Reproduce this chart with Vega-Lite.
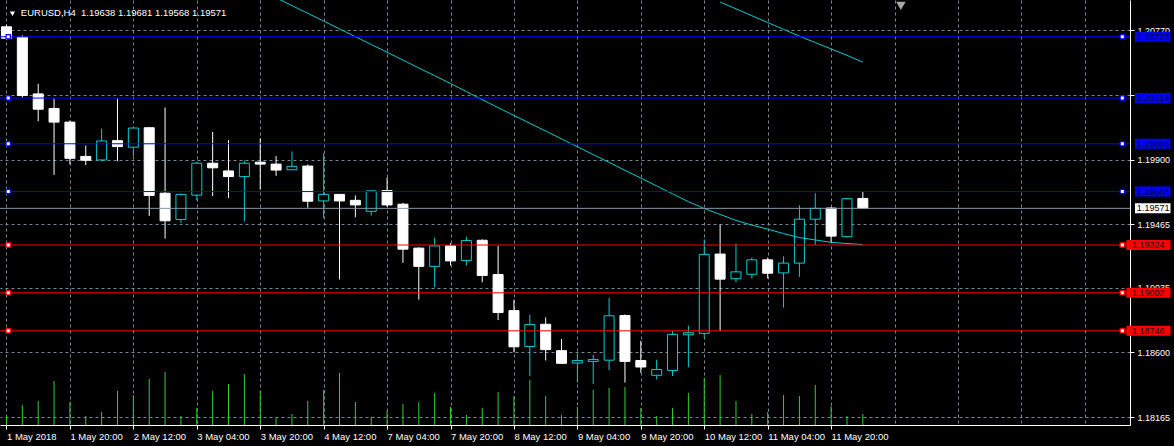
{
  "$schema": "https://vega.github.io/schema/vega-lite/v6.json",
  "width": 1130,
  "height": 425,
  "autosize": {"type": "none"},
  "padding": {"left": 0, "top": 0, "right": 44, "bottom": 21},
  "background": "#000000",
  "config": {"view": {"stroke": null}, "font": "Liberation Sans"},
  "datasets": {
    "candles": [
      {"k":0,"o":1.20794,"h":1.20809,"l":1.20704,"c":1.20717,"v":2250},
      {"k":1,"o":1.20724,"h":1.20737,"l":1.20318,"c":1.20331,"v":5000},
      {"k":2,"o":1.20342,"h":1.20410,"l":1.20158,"c":1.20239,"v":6000},
      {"k":3,"o":1.20244,"h":1.20311,"l":1.19796,"c":1.20152,"v":11000},
      {"k":4,"o":1.20152,"h":1.20163,"l":1.19867,"c":1.19908,"v":5750},
      {"k":5,"o":1.19921,"h":1.19994,"l":1.19862,"c":1.19895,"v":2250},
      {"k":6,"o":1.19897,"h":1.20108,"l":1.19888,"c":1.20025,"v":3250},
      {"k":7,"o":1.20027,"h":1.20311,"l":1.19888,"c":1.19987,"v":8500},
      {"k":8,"o":1.19983,"h":1.20119,"l":1.19921,"c":1.20112,"v":7500},
      {"k":9,"o":1.20114,"h":1.20119,"l":1.19520,"c":1.19658,"v":11500},
      {"k":10,"o":1.19673,"h":1.20250,"l":1.19367,"c":1.19487,"v":13250},
      {"k":11,"o":1.19496,"h":1.19671,"l":1.19472,"c":1.19665,"v":2250},
      {"k":12,"o":1.19660,"h":1.19882,"l":1.19625,"c":1.19875,"v":4250},
      {"k":13,"o":1.19875,"h":1.20086,"l":1.19654,"c":1.19844,"v":8500},
      {"k":14,"o":1.19823,"h":1.20031,"l":1.19640,"c":1.19785,"v":10250},
      {"k":15,"o":1.19785,"h":1.19893,"l":1.19483,"c":1.19875,"v":12750},
      {"k":16,"o":1.19882,"h":1.20042,"l":1.19698,"c":1.19869,"v":8500},
      {"k":17,"o":1.19869,"h":1.19923,"l":1.19790,"c":1.19829,"v":1750},
      {"k":18,"o":1.19831,"h":1.19954,"l":1.19829,"c":1.19854,"v":2750},
      {"k":19,"o":1.19856,"h":1.19867,"l":1.19575,"c":1.19619,"v":6000},
      {"k":20,"o":1.19621,"h":1.19943,"l":1.19505,"c":1.19665,"v":8750},
      {"k":21,"o":1.19665,"h":1.19665,"l":1.19092,"c":1.19621,"v":13000},
      {"k":22,"o":1.19625,"h":1.19658,"l":1.19511,"c":1.19594,"v":5750},
      {"k":23,"o":1.19551,"h":1.19691,"l":1.19522,"c":1.19689,"v":2000},
      {"k":24,"o":1.19691,"h":1.19779,"l":1.19581,"c":1.19594,"v":3500},
      {"k":25,"o":1.19599,"h":1.19608,"l":1.19204,"c":1.19296,"v":5250},
      {"k":26,"o":1.19303,"h":1.19309,"l":1.18956,"c":1.19180,"v":5750},
      {"k":27,"o":1.19180,"h":1.19373,"l":1.19040,"c":1.19318,"v":8000},
      {"k":28,"o":1.19318,"h":1.19336,"l":1.19186,"c":1.19217,"v":4500},
      {"k":29,"o":1.19219,"h":1.19380,"l":1.19186,"c":1.19354,"v":2500},
      {"k":30,"o":1.19356,"h":1.19362,"l":1.19073,"c":1.19119,"v":4250},
      {"k":31,"o":1.19125,"h":1.19318,"l":1.18818,"c":1.18869,"v":8250},
      {"k":32,"o":1.18882,"h":1.18956,"l":1.18601,"c":1.18638,"v":7250},
      {"k":33,"o":1.18640,"h":1.18854,"l":1.18441,"c":1.18788,"v":11250},
      {"k":34,"o":1.18790,"h":1.18836,"l":1.18546,"c":1.18619,"v":7250},
      {"k":35,"o":1.18612,"h":1.18691,"l":1.18522,"c":1.18527,"v":2500},
      {"k":36,"o":1.18529,"h":1.18594,"l":1.18397,"c":1.18546,"v":4500},
      {"k":37,"o":1.18540,"h":1.18584,"l":1.18388,"c":1.18553,"v":8750},
      {"k":38,"o":1.18548,"h":1.18967,"l":1.18481,"c":1.18847,"v":9250},
      {"k":39,"o":1.18849,"h":1.18856,"l":1.18397,"c":1.18540,"v":9500},
      {"k":40,"o":1.18546,"h":1.18678,"l":1.18463,"c":1.18502,"v":4250},
      {"k":41,"o":1.18446,"h":1.18551,"l":1.18419,"c":1.18485,"v":2250},
      {"k":42,"o":1.18479,"h":1.18744,"l":1.18441,"c":1.18722,"v":4250},
      {"k":43,"o":1.18719,"h":1.18781,"l":1.18502,"c":1.18733,"v":8000},
      {"k":44,"o":1.18729,"h":1.19362,"l":1.18700,"c":1.19261,"v":11750},
      {"k":45,"o":1.19263,"h":1.19461,"l":1.18744,"c":1.19094,"v":12500},
      {"k":46,"o":1.19097,"h":1.19334,"l":1.19073,"c":1.19143,"v":6000},
      {"k":47,"o":1.19127,"h":1.19239,"l":1.19099,"c":1.19224,"v":2750},
      {"k":48,"o":1.19224,"h":1.19239,"l":1.19099,"c":1.19134,"v":3250},
      {"k":49,"o":1.19136,"h":1.19248,"l":1.18902,"c":1.19202,"v":7500},
      {"k":50,"o":1.19202,"h":1.19592,"l":1.19110,"c":1.19498,"v":7250},
      {"k":51,"o":1.19498,"h":1.19673,"l":1.19325,"c":1.19571,"v":10000},
      {"k":52,"o":1.19573,"h":1.19579,"l":1.19340,"c":1.19384,"v":4750},
      {"k":53,"o":1.19380,"h":1.19642,"l":1.19375,"c":1.19636,"v":2250},
      {"k":54,"o":1.19638,"h":1.19681,"l":1.19568,"c":1.19571,"v":2750}
    ],
    "ma": [
      {"k":17,"ma":1.20990,"s":"a"},{"k":18,"ma":1.20937,"s":"a"},{"k":19,"ma":1.20885,"s":"a"},
      {"k":20,"ma":1.20833,"s":"a"},{"k":21,"ma":1.20780,"s":"a"},{"k":22,"ma":1.20728,"s":"a"},
      {"k":23,"ma":1.20675,"s":"a"},{"k":24,"ma":1.20623,"s":"a"},{"k":25,"ma":1.20570,"s":"a"},
      {"k":26,"ma":1.20517,"s":"a"},{"k":27,"ma":1.20465,"s":"a"},{"k":28,"ma":1.20412,"s":"a"},
      {"k":29,"ma":1.20358,"s":"a"},{"k":30,"ma":1.20303,"s":"a"},{"k":31,"ma":1.20250,"s":"a"},
      {"k":32,"ma":1.20197,"s":"a"},{"k":33,"ma":1.20144,"s":"a"},{"k":34,"ma":1.20092,"s":"a"},
      {"k":35,"ma":1.20039,"s":"a"},{"k":36,"ma":1.19986,"s":"a"},{"k":37,"ma":1.19933,"s":"a"},
      {"k":38,"ma":1.19881,"s":"a"},{"k":39,"ma":1.19827,"s":"a"},{"k":40,"ma":1.19775,"s":"a"},
      {"k":41,"ma":1.19722,"s":"a"},{"k":42,"ma":1.19669,"s":"a"},{"k":43,"ma":1.19616,"s":"a"},
      {"k":44,"ma":1.19570,"s":"a"},{"k":45,"ma":1.19530,"s":"a"},{"k":46,"ma":1.19490,"s":"a"},
      {"k":47,"ma":1.19458,"s":"a"},{"k":48,"ma":1.19431,"s":"a"},{"k":49,"ma":1.19401,"s":"a"},
      {"k":50,"ma":1.19374,"s":"a"},{"k":51,"ma":1.19358,"s":"a"},{"k":52,"ma":1.19342,"s":"a"},
      {"k":53,"ma":1.19334,"s":"a"},{"k":54,"ma":1.19327,"s":"a"},
      {"k":45,"ma":1.20961,"s":"b"},{"k":46,"ma":1.20915,"s":"b"},{"k":47,"ma":1.20869,"s":"b"},
      {"k":48,"ma":1.20823,"s":"b"},{"k":49,"ma":1.20777,"s":"b"},{"k":50,"ma":1.20731,"s":"b"},
      {"k":51,"ma":1.20688,"s":"b"},{"k":52,"ma":1.20645,"s":"b"},{"k":53,"ma":1.20602,"s":"b"},
      {"k":54,"ma":1.20556,"s":"b"}
    ],
    "levels": [
      {"lvl":1.20727,"col":"blue"},{"lvl":1.20314,"col":"blue"},{"lvl":1.20006,"col":"blue"},
      {"lvl":1.19684,"col":"blue"},{"lvl":1.19324,"col":"red"},{"lvl":1.19002,"col":"red"},
      {"lvl":1.18746,"col":"red"}
    ],
    "last": [{"p":1.19571,"title":"EURUSD,H4\u00a0\u00a01.19638 1.19681 1.19568 1.19571"}]
  },
  "resolve": {"scale": {"y": "independent"}},
  "layer": [
    {
      "data": {"name": "candles"},
      "mark": {"type": "rule", "color": "#32cd32", "strokeWidth": 1},
      "encoding": {
        "x": {
          "field": "k", "type": "quantitative",
          "scale": {"domain": [-0.09375, 70.53125], "nice": false, "zero": false},
          "axis": {
            "orient": "bottom", "title": null,
            "values": [0,2,4,6,8,10,12,14,16,18,20,22,24,26,28,30,32,34,36,38,40,42,44,46,48,50,52,54,56,58,60,62,64,66,68,70],
            "labelExpr": "(datum.value % 4 == 0 && datum.value <= 52) ? ['1 May 2018','1 May 20:00','2 May 12:00','3 May 04:00','3 May 20:00','4 May 12:00','7 May 04:00','7 May 20:00','8 May 12:00','9 May 04:00','9 May 20:00','10 May 12:00','11 May 04:00','11 May 20:00'][datum.value / 4] : ''",
            "labelColor": "#ffffff", "labelFontSize": 9.5, "labelFont": "Liberation Sans",
            "labelAlign": "left", "labelBaseline": "top", "labelPadding": 2,
            "labelFlush": false, "labelOverlap": false,
            "tickSize": 4,
            "tickColor": {"condition": {"test": "datum.value % 4 == 0 && datum.value <= 52", "value": "#ffffff"}, "value": "transparent"},
            "domainColor": "#ffffff", "domainWidth": 1,
            "grid": true, "gridColor": "#778899", "gridDash": [3, 3], "gridWidth": 1
          }
        },
        "y": {"field": "v", "type": "quantitative", "scale": {"domain": [0, 106250], "nice": false, "zero": true}, "axis": null},
        "y2": {"datum": 0}
      }
    },
    {
      "layer": [
        {
          "data": {"name": "candles"},
          "mark": {"type": "rule", "strokeWidth": 1, "clip": true},
          "encoding": {
            "x": {"field": "k", "type": "quantitative"},
            "y": {
              "field": "l", "type": "quantitative",
              "scale": {"domain": [1.18145, 1.20941], "nice": false, "zero": false},
              "axis": {
                "orient": "right", "title": null,
                "values": [1.20770,1.20550,1.20335,1.20120,1.19900,1.19685,1.19465,1.19250,1.19035,1.18815,1.18600,1.18385,1.18165],
                "labelExpr": "(datum.value == 1.20335 || datum.value == 1.19685) ? '' : format(datum.value, '.5f')",
                "labelColor": "#ffffff", "labelFontSize": 9, "labelFont": "Liberation Sans",
                "labelAlign": "left", "labelBaseline": "middle", "labelPadding": 3,
                "labelFlush": false, "labelOverlap": false,
                "tickSize": 4, "tickColor": "#ffffff",
                "domainColor": "#ffffff", "domainWidth": 1,
                "grid": true, "gridColor": "#778899", "gridDash": [3, 3], "gridWidth": 1
              }
            },
            "y2": {"field": "h"},
            "color": {"condition": {"test": "datum.c > datum.o", "value": "#00ced1"}, "value": "#ffffff"}
          }
        },
        {
          "data": {"name": "candles"},
          "mark": {"type": "bar", "size": 10, "strokeWidth": 1, "clip": true},
          "encoding": {
            "x": {"field": "k", "type": "quantitative"},
            "y": {"field": "o", "type": "quantitative"},
            "y2": {"field": "c"},
            "fill": {"condition": {"test": "datum.c > datum.o", "value": "#000000"}, "value": "#ffffff"},
            "stroke": {"condition": {"test": "datum.c > datum.o", "value": "#00ced1"}, "value": "#ffffff"}
          }
        },
        {
          "data": {"name": "ma"},
          "mark": {"type": "line", "color": "#00ced1", "strokeWidth": 1, "clip": true},
          "encoding": {
            "x": {"field": "k", "type": "quantitative"},
            "y": {"field": "ma", "type": "quantitative"},
            "detail": {"field": "s"}
          }
        },
        {
          "data": {"name": "last"},
          "mark": {"type": "rule", "color": "#8796a8", "strokeWidth": 1},
          "encoding": {"y": {"field": "p", "type": "quantitative"}}
        },
        {
          "data": {"name": "levels"},
          "mark": {"type": "rule", "strokeWidth": 1},
          "encoding": {
            "y": {"field": "lvl", "type": "quantitative"},
            "color": {"field": "col", "type": "nominal", "scale": {"domain": ["blue", "red"], "range": ["#0000ff", "#ff0000"]}, "legend": null}
          }
        },
        {
          "data": {"name": "levels"},
          "mark": {"type": "point", "shape": "square", "size": 18, "filled": true, "fill": "#ffffff", "strokeWidth": 1.2, "opacity": 1, "clip": false},
          "encoding": {
            "x": {"datum": 0.11, "type": "quantitative"},
            "y": {"field": "lvl", "type": "quantitative"},
            "stroke": {"field": "col", "type": "nominal", "scale": {"domain": ["blue", "red"], "range": ["#0000ff", "#ff0000"]}, "legend": null}
          }
        },
        {
          "data": {"name": "levels"},
          "mark": {"type": "point", "shape": "square", "size": 18, "filled": true, "fill": "#ffffff", "strokeWidth": 1.2, "opacity": 1, "clip": false},
          "encoding": {
            "x": {"datum": 70.36, "type": "quantitative"},
            "y": {"field": "lvl", "type": "quantitative"},
            "stroke": {"field": "col", "type": "nominal", "scale": {"domain": ["blue", "red"], "range": ["#0000ff", "#ff0000"]}, "legend": null}
          }
        },
        {
          "data": {"name": "levels"},
          "transform": [{"filter": "datum.col == 'blue'"}],
          "mark": {"type": "bar", "orient": "horizontal", "size": 10, "color": "#0000ff", "clip": false},
          "encoding": {
            "x": {"datum": 71.16, "type": "quantitative"},
            "x2": {"datum": 73.4},
            "y": {"field": "lvl", "type": "quantitative"}
          }
        },
        {
          "data": {"name": "levels"},
          "transform": [{"filter": "datum.col == 'red'"}],
          "mark": {"type": "bar", "orient": "horizontal", "size": 10, "color": "#ff0000", "clip": false},
          "encoding": {
            "x": {"datum": 70.62, "type": "quantitative"},
            "x2": {"datum": 73.4},
            "y": {"field": "lvl", "type": "quantitative"}
          }
        },
        {
          "data": {"name": "last"},
          "mark": {"type": "bar", "orient": "horizontal", "size": 10, "color": "#ffffff", "clip": false},
          "encoding": {
            "x": {"datum": 71.16, "type": "quantitative"},
            "x2": {"datum": 73.4},
            "y": {"field": "p", "type": "quantitative"}
          }
        },
        {
          "data": {"name": "levels"},
          "transform": [{"filter": "datum.col == 'blue'"}],
          "mark": {"type": "text", "align": "left", "baseline": "middle", "fontSize": 9, "font": "Liberation Sans", "color": "#000030", "clip": false},
          "encoding": {
            "x": {"datum": 71.28, "type": "quantitative"},
            "y": {"field": "lvl", "type": "quantitative"},
            "text": {"field": "lvl", "type": "quantitative", "format": ".5f"}
          }
        },
        {
          "data": {"name": "levels"},
          "transform": [{"filter": "datum.col == 'red'"}],
          "mark": {"type": "text", "align": "left", "baseline": "middle", "fontSize": 9, "font": "Liberation Sans", "color": "#200000", "clip": false},
          "encoding": {
            "x": {"datum": 70.97, "type": "quantitative"},
            "y": {"field": "lvl", "type": "quantitative"},
            "text": {"field": "lvl", "type": "quantitative", "format": ".5f"}
          }
        },
        {
          "data": {"name": "last"},
          "mark": {"type": "text", "align": "left", "baseline": "middle", "fontSize": 9, "font": "Liberation Sans", "color": "#000000", "clip": false},
          "encoding": {
            "x": {"datum": 71.28, "type": "quantitative"},
            "y": {"field": "p", "type": "quantitative"},
            "text": {"field": "p", "type": "quantitative", "format": ".5f"}
          }
        },
        {
          "data": {"name": "last"},
          "mark": {"type": "text", "align": "left", "baseline": "middle", "fontSize": 9.5, "font": "Liberation Sans", "color": "#ffffff", "clip": false},
          "encoding": {
            "x": {"datum": 0.906, "type": "quantitative"},
            "y": {"datum": 1.20885, "type": "quantitative"},
            "text": {"field": "title"}
          }
        },
        {
          "data": {"name": "last"},
          "mark": {"type": "point", "shape": "triangle-down", "size": 28, "filled": true, "color": "#ffffff", "opacity": 1, "clip": false},
          "encoding": {
            "x": {"datum": 0.375, "type": "quantitative"},
            "y": {"datum": 1.20882, "type": "quantitative"}
          }
        },
        {
          "data": {"name": "last"},
          "mark": {"type": "point", "shape": "triangle-down", "size": 90, "filled": true, "color": "#a8a8a8", "opacity": 1, "clip": true},
          "encoding": {
            "x": {"datum": 56.4, "type": "quantitative"},
            "y": {"datum": 1.20935, "type": "quantitative"}
          }
        }
      ]
    }
  ]
}
